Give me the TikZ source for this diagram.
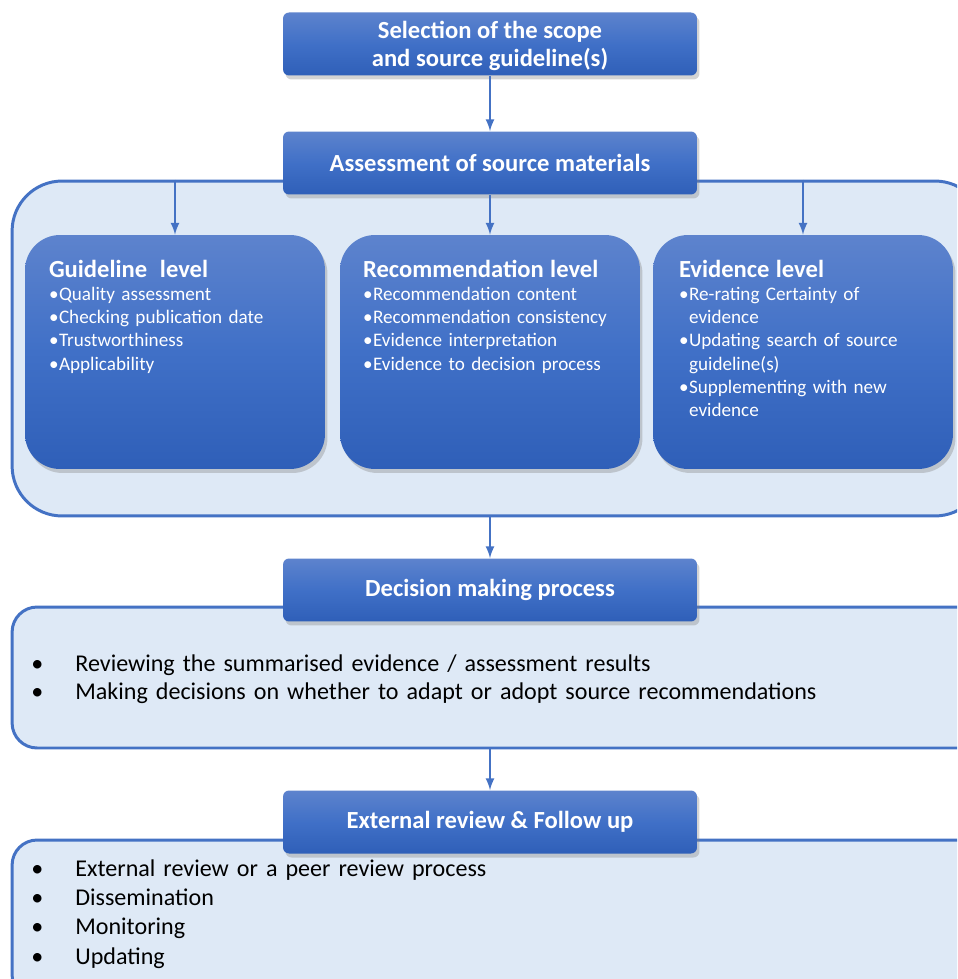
\documentclass[tikz,border=0pt]{standalone}
\usepackage{fontspec}
\setmainfont{Carlito}
\usetikzlibrary{shapes,arrows,positioning,calc,shadows}

\definecolor{edgeblue}{RGB}{68,114,196}
\definecolor{areafill}{RGB}{222,233,246}
\definecolor{boxtop}{RGB}{93,131,205}
\definecolor{boxmid}{RGB}{64,112,199}
\definecolor{boxbot}{RGB}{47,95,184}

\newcommand{\pbul}{\makebox[0.2cm][l]{\textbullet}}
\newcommand{\pind}{\hspace*{0.2cm}}
\newcommand{\lbul}{\makebox[0.88cm][l]{\textbullet}}

\begin{document}
\begin{tikzpicture}[
                  x=0.02cm, y=-0.02cm,
                  stage/.style={rectangle, rounded corners=0.12cm, top color=boxtop, bottom color=boxbot, middle color=boxmid,
                                text=white, font=\fontsize{14pt}{15.9pt}\selectfont\bfseries, align=center,
                                minimum width=8.28cm, minimum height=1.26cm,
                                drop shadow={opacity=0.35, shadow xshift=0.05cm, shadow yshift=-0.08cm}},
                  panel/.style={rectangle, rounded corners=0.7cm, top color=boxtop, bottom color=boxbot, middle color=boxmid,
                                minimum width=6cm, minimum height=4.68cm,
                                drop shadow={opacity=0.35, shadow xshift=0.05cm, shadow yshift=-0.08cm}},
                  paneltext/.style={anchor=north west, inner sep=0pt, text=white, text width=5.6cm, align=left,
                                font=\fontsize{10.9pt}{13.2pt}\selectfont},
                  area/.style={rectangle, draw=edgeblue, line width=1.7pt, fill=areafill},
                  areatext/.style={anchor=north west, inner sep=0pt, text width=17.5cm, align=left,
                                font=\fontsize{13.7pt}{16.4pt}\selectfont},
                  line/.style={draw=edgeblue, -latex, line width=1.3pt}
            ]
            \useasboundingbox (0,0) rectangle (957,979);
            \clip (0,0) rectangle (957,979);

            % Containers
            \node [area, rounded corners=1cm, minimum width=19.46cm, minimum height=6.7cm] (assessarea) at (498.5,348.5) {};
            \node [area, rounded corners=0.5cm, minimum width=19.46cm, minimum height=2.82cm] (decidearea) at (498.5,677.5) {};
            \node [area, rounded corners=0.5cm, minimum width=19.46cm, minimum height=3.2cm] (followarea) at (498.5,920) {};

            % Nodes
            \node [stage, text depth=0.5pt] (select) at (490,44) {Selection of the scope\\and source guideline(s)};
            \node [stage] (assess) at (490,163) {Assessment of source materials};
            \node [panel] (guide) at (175,352) {};
            \node [panel] (rec) at (490,352) {};
            \node [panel] (evid) at (803,352) {};
            \node [stage] (decide) at (490,590) {Decision making process};
            \node [stage] (review) at (490,822) {External review \& Follow up};

            % Panel texts
            \node [paneltext] (guidetext) at ($(guide.north west)+(24,25)$)
                  {{\fontsize{14pt}{16pt}\selectfont\bfseries Guideline\ \ level}\\
                   \pbul Quality assessment\\
                   \pbul Checking publication date\\
                   \pbul Trustworthiness\\
                   \pbul Applicability};
            \node [paneltext] (rectext) at ($(rec.north west)+(23,25)$)
                  {{\fontsize{14pt}{16pt}\selectfont\bfseries Recommendation level}\\
                   \pbul Recommendation content\\
                   \pbul Recommendation consistency\\
                   \pbul Evidence interpretation\\
                   \pbul Evidence to decision process};
            \node [paneltext] (evidtext) at ($(evid.north west)+(26,25)$)
                  {{\fontsize{14pt}{16pt}\selectfont\bfseries Evidence level}\\
                   \pbul Re-rating Certainty of\\
                   \pind evidence\\
                   \pbul Updating search of source\\
                   \pind guideline(s)\\
                   \pbul Supplementing with new\\
                   \pind evidence};

            % Area texts
            \node [areatext] (decidetext) at (31,654)
                  {\lbul Reviewing the summarised evidence / assessment results\\
                   \lbul Making decisions on whether to adapt or adopt source recommendations};
            \node [areatext, font=\fontsize{13.7pt}{16.7pt}\selectfont] (followtext) at (31,859)
                  {\lbul External review or a peer review process\\
                   \lbul Dissemination\\
                   \lbul Monitoring\\
                   \lbul Updating};

            % Edges
            \path [line] (select) -- (assess);
            \path [line] (assessarea.north -| guide.north) -- (guide.north);
            \path [line] (assess) -- (rec);
            \path [line] (assessarea.north -| evid.north) -- (evid.north);
            \path [line] (assessarea.south -| decide.north) -- (decide.north);
            \path [line] (decidearea.south -| review.north) -- (review.north);
      \end{tikzpicture}
\end{document}
